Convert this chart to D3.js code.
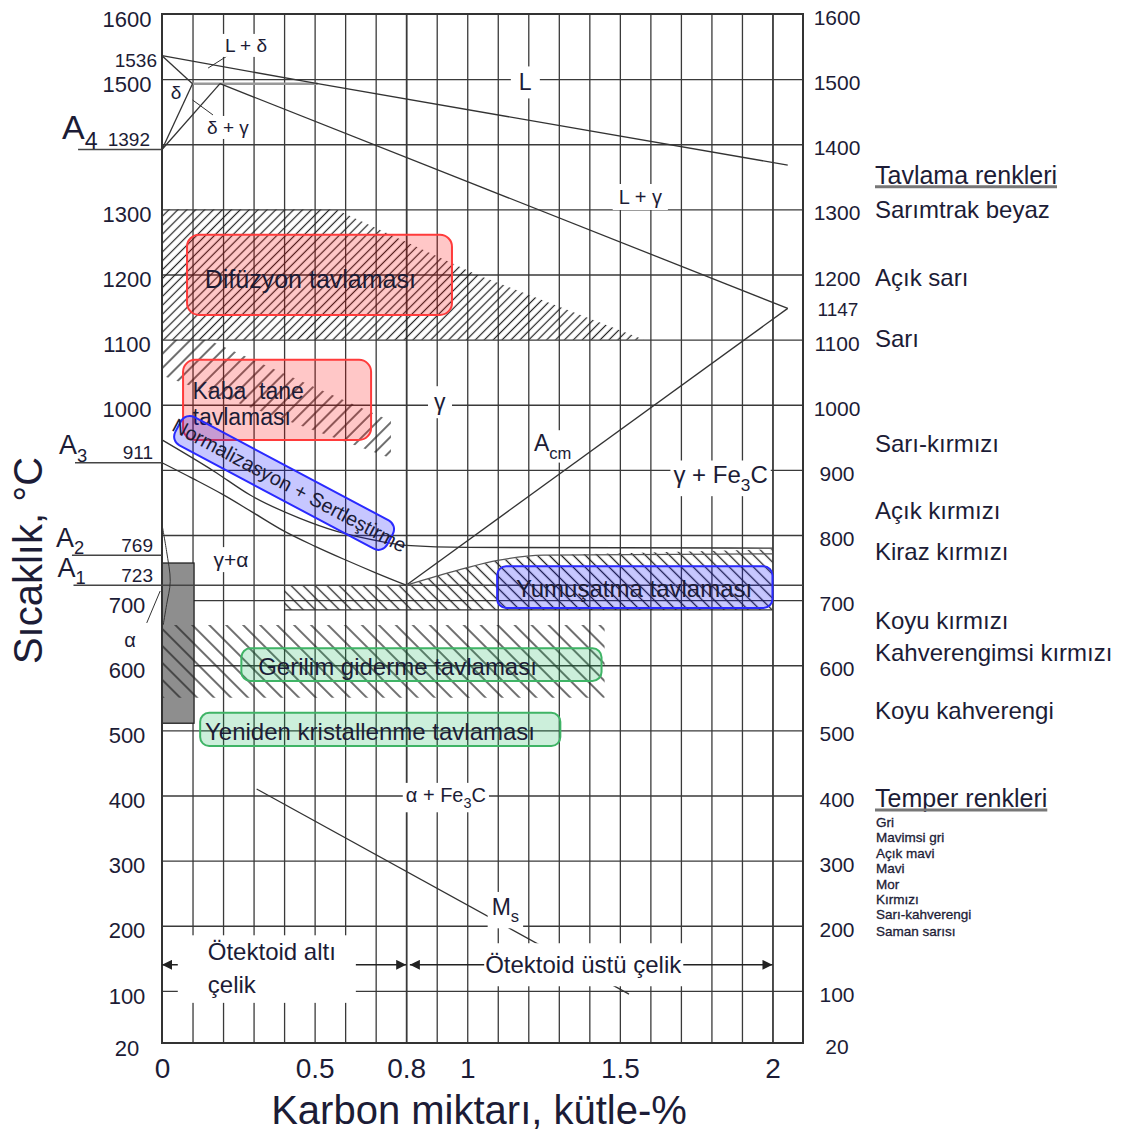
<!DOCTYPE html>
<html>
<head>
<meta charset="utf-8">
<script src="https://cdn.jsdelivr.net/npm/d3@7/dist/d3.min.js"></script>
<style>
  body { margin: 0; background: #fff; }
  text { font-family: Arial, "Liberation Sans", sans-serif; }
</style>
</head>
<body>
<div id="chart"></div>
<script>
// tick labels
const xTickValues = [0, 0.5, 0.8, 1, 1.5, 2]
const leftTicks = [1600, 1500, 1300, 1200, 1100, 1000, 700, 600, 500, 400, 300, 200, 100, 20]
const rightTicks = [1600, 1500, 1400, 1300, 1200, 1100, 1000, 900, 800, 700, 600, 500, 400, 300, 200, 100, 20]
const rightSpecial = [1147]

// critical temperatures on the left (A4, A3, A2, A1)
const critNames = ['4', '3', '2', '1']
const critTemps = [1392, 911, 769, 723]
const critFrom = [-0.275, -0.285, -0.295, -0.29]
const critTo = [0, 0, 0, 2.1]

// phase boundaries, [C %, T °C]
const liquidus = [[0, 1536], [0.51, 1493], [2.05, 1368]]
const deltaSolidus = [[0, 1536], [0.1, 1493]]
const deltaSolvus = [[0.1, 1493], [0, 1392]]
const gammaDelta = [[0, 1392], [0.19, 1493]]
const peritectic = [[0.1, 1493], [0.51, 1493]]
const solidus = [[0.19, 1493], [2.05, 1148]]
const acm = [[0.8, 723], [2.05, 1148]]
const a3 = [[0, 911], [0.1, 887], [0.2, 862], [0.3, 834], [0.4, 806], [0.5, 783], [0.6, 762], [0.7, 742], [0.8, 723]]
const normUpper = [[0, 946], [0.17, 898], [0.29, 861], [0.45, 826], [0.57, 806], [0.72, 790], [0.8, 784], [1.0, 781], [2.0, 780]]
const softUpper = [[0.8, 723], [0.9, 737], [1.0, 750], [1.1, 761], [1.25, 769], [2.0, 771]]
const softLower = [[0.4, 685], [2.0, 685]]
const msLine = [[0.31, 410], [1.53, 95]]
const alphaCurve = [[0, 816], [0.015, 775], [0.027, 729], [0.015, 693], [0.004, 662]]
const alphaLeader = [[-0.006, 714], [-0.05, 665]]
const ldLeader = [[0.151, 1517], [0.239, 1543]]
const dgLeader = [[0.1, 1468], [0.167, 1445]]

// hatched heat-treatment ranges
const diffHatch = [[0, 1300], [0.57, 1300], [1.03, 1200], [1.58, 1100], [0, 1100]]
const coarseHatch = [[0, 1100], [0.15, 1100], [0.75, 975], [0.75, 918], [0, 1045]]
const softHatch = [[0.4, 723], [0.8, 723], [0.9, 737], [1.0, 750], [1.1, 761], [1.25, 769], [2.0, 778], [2.0, 685], [0.4, 685]]
const stressHatch = [[0, 662], [1.45, 662], [1.45, 550], [0, 550]]
const ferriteBlock = [0, 0.105, 511, 757] // c0, c1, t0, t1

// annealing boxes: c0, c1, t0, t1, text start
const boxNames = ['Difüzyon tavlaması', 'Yumuşatma tavlaması', 'Gerilim giderme tavlaması', 'Yeniden kristallenme tavlaması']
const boxC = [[0.082, 0.95], [1.098, 2.0], [0.26, 1.44], [0.125, 1.305]]
const boxT = [[1138, 1261], [688, 752], [576, 626], [476, 527]]
const boxTextC = [0.14, 1.16, 0.315, 0.141]
const boxKind = ['red', 'blue', 'green', 'green']
const coarseBoxC = [0.069, 0.685]
const coarseBoxT = [946, 1069]
const coarseLines = ['Kaba  tane', 'tavlaması']
const coarseLineT = [1023, 983]
const normCenter = [0.40, 880]

// colour names
const annealTitle = 'Tavlama renkleri'
const annealNames = ['Sarımtrak beyaz', 'Açık sarı', 'Sarı', 'Sarı-kırmızı', 'Açık kırmızı', 'Kiraz kırmızı', 'Koyu kırmızı', 'Kahverengimsi kırmızı', 'Koyu kahverengi']
const annealTemps = [1300, 1196, 1102, 940, 838, 774, 669, 619, 531]
const temperTitle = 'Temper renkleri'
const temperNames = ['Gri', 'Mavimsi gri', 'Açık mavi', 'Mavi', 'Mor', 'Kırmızı', 'Sarı-kahverengi', 'Saman sarısı']
const temperTemps = [359, 336, 311, 288, 263, 240, 217, 192]

const W = 1137
const H = 1133
const ink = '#1c1c36'
const x = d3.scaleLinear().domain([0, 2.1]).range([162, 803])
const y = d3.scaleLinear().domain([20, 1600]).range([1043, 14])

const svg = d3.select('#chart').append('svg')
  .attr('width', W).attr('height', H)
  .style('background', '#fff')
const defs = svg.append('defs')

function hatch (id, gap, angle, sw) {
  const p = defs.append('pattern').attr('id', id)
    .attr('patternUnits', 'userSpaceOnUse')
    .attr('width', gap).attr('height', gap)
    .attr('patternTransform', `rotate(${angle})`)
  p.append('line')
    .attr('x1', gap / 2).attr('x2', gap / 2).attr('y1', 0).attr('y2', gap)
    .attr('stroke', '#222').attr('stroke-width', sw)
}
hatch('h-diff', 6.3, 45, 1.2)
hatch('h-coarse', 10, 45, 1.3)
hatch('h-soft', 8.5, -45, 1.3)
hatch('h-stress', 12, -45, 1.3)

defs.append('marker').attr('id', 'arr')
  .attr('viewBox', '0 0 10 10').attr('refX', 10).attr('refY', 5)
  .attr('markerUnits', 'userSpaceOnUse')
  .attr('markerWidth', 12).attr('markerHeight', 10)
  .attr('orient', 'auto-start-reverse')
  .append('path').attr('d', 'M0,0L10,5L0,10Z').attr('fill', '#222')

const line = d3.line().x(d => x(d[0])).y(d => y(d[1]))

// grid
const gridC = d3.range(1, 21).map(i => +(i / 10).toFixed(1))
const gridT = d3.range(100, 1600, 100)
const gx = svg.append('g')
  .attr('transform', `translate(0,${y(20)})`)
  .call(d3.axisBottom(x).tickValues(gridC).tickSize(y(1600) - y(20)).tickFormat(''))
gx.select('.domain').remove()
gx.selectAll('line').attr('stroke', '#3a3a3a')
  .attr('stroke-width', d => (d === 0.8 || d === 2) ? 1.8 : 1.3)
const gy = svg.append('g')
  .attr('transform', `translate(${x(0)},0)`)
  .call(d3.axisLeft(y).tickValues(gridT).tickSize(x(0) - x(2.1)).tickFormat(''))
gy.select('.domain').remove()
gy.selectAll('line').attr('stroke', '#3a3a3a').attr('stroke-width', 1.3)

// hatches
function region (pts, pat) {
  svg.append('path').attr('d', line(pts) + 'Z').attr('fill', `url(#${pat})`)
}
region(diffHatch, 'h-diff')
region(coarseHatch, 'h-coarse')
region(softHatch, 'h-soft')

svg.append('rect')
  .attr('x', x(ferriteBlock[0])).attr('y', y(ferriteBlock[3]))
  .attr('width', x(ferriteBlock[1]) - x(ferriteBlock[0]))
  .attr('height', y(ferriteBlock[2]) - y(ferriteBlock[3]))
  .attr('fill', '#8e8e8e').attr('stroke', '#222').attr('stroke-width', 1.3)
region(stressHatch, 'h-stress')

// border
svg.append('rect')
  .attr('x', x(0)).attr('y', y(1600))
  .attr('width', x(2.1) - x(0)).attr('height', y(20) - y(1600))
  .attr('fill', 'none').attr('stroke', '#333').attr('stroke-width', 2)

// critical lines
critTemps.forEach((t, i) => {
  svg.append('line')
    .attr('x1', x(critFrom[i])).attr('x2', x(critTo[i]))
    .attr('y1', y(t)).attr('y2', y(t))
    .attr('stroke', '#444').attr('stroke-width', 1.5)
})

// phase lines
function pline (pts, opts = {}) {
  svg.append('path').attr('d', line.curve(opts.curve || d3.curveLinear)(pts))
    .attr('fill', 'none').attr('stroke', opts.color || '#333')
    .attr('stroke-width', opts.width || 1.3)
  line.curve(d3.curveLinear)
}
pline(peritectic, { color: '#999', width: 2.5 })
pline(liquidus)
pline(deltaSolidus)
pline(deltaSolvus)
pline(gammaDelta)
pline(solidus)
pline(acm)
pline(a3, { curve: d3.curveMonotoneX })
pline(normUpper, { curve: d3.curveMonotoneX })
pline(softUpper, { curve: d3.curveMonotoneX, color: '#555' })
pline(softLower)
pline(msLine)
pline(alphaCurve, { curve: d3.curveCatmullRom, width: 1 })
pline(alphaLeader, { width: 1 })
pline(ldLeader, { width: 1 })
pline(dgLeader, { width: 1 })

// steel class arrows
const arrowT = 140
svg.append('line')
  .attr('x1', x(0)).attr('x2', x(0.8)).attr('y1', y(arrowT)).attr('y2', y(arrowT))
  .attr('stroke', '#222').attr('stroke-width', 1.5)
  .attr('marker-start', 'url(#arr)').attr('marker-end', 'url(#arr)')
svg.append('line')
  .attr('x1', x(0.812)).attr('x2', x(2.0)).attr('y1', y(arrowT)).attr('y2', y(arrowT))
  .attr('stroke', '#222').attr('stroke-width', 1.5)
  .attr('marker-start', 'url(#arr)').attr('marker-end', 'url(#arr)')

// annealing boxes
const boxFill = { red: 'rgba(255,0,0,0.22)', blue: 'rgba(0,0,255,0.22)', green: 'rgba(0,175,75,0.2)' }
const boxStroke = { red: '#ff3b3b', blue: '#2a2aff', green: '#3fb466' }

function textLine (g, px, py, str, size, anchor) {
  return g.append('text').attr('x', px).attr('y', py).attr('dy', '0.38em')
    .attr('font-size', size).attr('fill', ink)
    .attr('text-anchor', anchor || 'start')
    .style('white-space', 'pre')
    .text(str)
}

boxNames.forEach((name, i) => {
  const k = boxKind[i]
  svg.append('rect')
    .attr('x', x(boxC[i][0])).attr('y', y(boxT[i][1]))
    .attr('width', x(boxC[i][1]) - x(boxC[i][0]))
    .attr('height', y(boxT[i][0]) - y(boxT[i][1]))
    .attr('rx', k === 'red' ? 12 : 9)
    .attr('fill', boxFill[k]).attr('stroke', boxStroke[k]).attr('stroke-width', 2)
  textLine(svg, x(boxTextC[i]), y((boxT[i][0] + boxT[i][1]) / 2) + (i === 0 ? 4 : 1), name, i === 0 ? 25 : 24)
})

svg.append('rect')
  .attr('x', x(coarseBoxC[0])).attr('y', y(coarseBoxT[1]))
  .attr('width', x(coarseBoxC[1]) - x(coarseBoxC[0]))
  .attr('height', y(coarseBoxT[0]) - y(coarseBoxT[1]))
  .attr('rx', 12)
  .attr('fill', boxFill.red).attr('stroke', boxStroke.red).attr('stroke-width', 2)
coarseLines.forEach((s, i) => textLine(svg, x(0.1), y(coarseLineT[i]), s, 23))

const ng = svg.append('g')
  .attr('transform', `translate(${x(normCenter[0])},${y(normCenter[1])}) rotate(28)`)
ng.append('rect')
  .attr('x', -120).attr('y', -16).attr('width', 240).attr('height', 32).attr('rx', 10)
  .attr('fill', boxFill.blue).attr('stroke', boxStroke.blue).attr('stroke-width', 2)
textLine(ng, 6, -1, 'Normalizasyon + Sertleştirme', 20, 'middle')

// phase labels
function label (c, t, parts, size, opts = {}) {
  const g = svg.append('g')
  const tx = g.append('text').attr('x', x(c)).attr('y', y(t)).attr('dy', '0.35em')
    .attr('font-size', size).attr('fill', ink)
    .attr('text-anchor', opts.anchor || 'middle')
  let shift = 0
  parts.forEach(p => {
    const ts = tx.append('tspan').text(p[0])
    if (p[1] === 'sub') {
      const d = size * 0.32
      ts.attr('font-size', size * 0.72).attr('dy', d - shift)
      shift = d
    } else if (shift) {
      ts.attr('dy', -shift)
      shift = 0
    }
  })
  if (opts.bg) {
    const b = g.node().getBBox()
    const px = opts.padX == null ? 3 : opts.padX
    const py = opts.padY == null ? 1 : opts.padY
    g.insert('rect', 'text')
      .attr('x', b.x - px).attr('y', b.y - py)
      .attr('width', b.width + 2 * px).attr('height', b.height + 2 * py)
      .attr('fill', '#fff')
  }
  return g
}

label(0.275, 1552, [['L + δ']], 19, { bg: true })
label(1.19, 1495, [['L']], 23, { bg: true, padX: 8, padY: 3 })
label(0.046, 1479, [['δ']], 19, { bg: true, padX: 1, padY: 0 })
label(0.216, 1426, [['δ + γ']], 19, { bg: true, padX: 1 })
label(1.567, 1319, [['L + γ']], 20, { bg: true, padX: 6, padY: 2 })
label(0.91, 1004, [['γ']], 23, { bg: true, padX: 6, padY: 3 })
label(1.28, 941, [['A'], ['cm', 'sub']], 23, { bg: true, padX: 1, padY: 0 })
label(1.83, 892, [['γ  + Fe'], ['3', 'sub'], ['C']], 24, { bg: true, padX: 3 })
label(0.226, 762, [['γ+α']], 21, { bg: true, padX: 2 })
label(0.93, 401, [['α + Fe'], ['3', 'sub'], ['C']], 20, { bg: true, padX: 3 })
label(1.125, 229, [['M'], ['s', 'sub']], 23, { bg: true, padX: 4, padY: 2 })

// steel class texts
const eg = svg.append('g')
textLine(eg, x(0.15), y(161), 'Ötektoid altı', 24)
textLine(eg, x(0.15), y(111), 'çelik', 24)
const eb = eg.node().getBBox()
eg.insert('rect', 'text')
  .attr('x', eb.x - 30).attr('y', eb.y - 3)
  .attr('width', eb.width + 50).attr('height', eb.height + 8)
  .attr('fill', '#fff')
label(1.38, 140, [['Ötektoid üstü çelik']], 24, { bg: true, padX: 1, padY: 8 })

// axes labels
const la = svg.append('g').attr('transform', `translate(${x(0)},0)`)
  .call(d3.axisLeft(y).tickValues(leftTicks).tickSize(0).tickFormat(d3.format('d')))
la.select('.domain').remove()
la.selectAll('text').attr('x', -35).attr('dy', '0.55em')
  .attr('text-anchor', 'middle').attr('font-size', 22).attr('fill', ink)

const ra = svg.append('g').attr('transform', `translate(${x(2.1)},0)`)
  .call(d3.axisRight(y).tickValues(rightTicks).tickSize(0).tickFormat(d3.format('d')))
ra.select('.domain').remove()
ra.selectAll('text').attr('x', 34).attr('dy', '0.5em')
  .attr('text-anchor', 'middle').attr('font-size', 21).attr('fill', ink)

rightSpecial.forEach(t => {
  svg.append('text').attr('x', x(2.1) + 35).attr('y', y(t)).attr('dy', '0.35em')
    .attr('text-anchor', 'middle').attr('font-size', 19).attr('fill', ink).text(t)
})

// special temperatures on the left
svg.append('text').attr('x', x(0) - 5).attr('y', y(1536) + 5).attr('dy', '0.35em')
  .attr('text-anchor', 'end').attr('font-size', 19).attr('fill', ink).text(1536)
critTemps.forEach((t, i) => {
  svg.append('text').attr('x', x(0) - (i === 0 ? 12 : 9)).attr('y', y(t) - 10).attr('dy', '0.35em')
    .attr('text-anchor', 'end').attr('font-size', 19).attr('fill', ink).text(t)
  const big = i === 0 ? 34 : 27
  const at = svg.append('text').attr('x', x(critFrom[i]) - 16).attr('y', y(t) - (i === 0 ? 22 : 18))
    .attr('dy', '0.35em').attr('font-size', big).attr('fill', ink)
  at.append('tspan').text('A')
  at.append('tspan').attr('font-size', big * 0.68).attr('dy', big * 0.28).text(critNames[i])
})
svg.append('text').attr('x', x(-0.105)).attr('y', y(639)).attr('dy', '0.35em')
  .attr('text-anchor', 'middle').attr('font-size', 20).attr('fill', ink).text('α')

const ba = svg.append('g').attr('transform', `translate(0,${y(20)})`)
  .call(d3.axisBottom(x).tickValues(xTickValues).tickSize(0).tickFormat(d => d))
ba.select('.domain').remove()
ba.selectAll('text').attr('y', 25).attr('dy', '0.35em')
  .attr('font-size', 28).attr('fill', ink)

svg.append('text')
  .attr('transform', `translate(28,${(y(20) + y(1600)) / 2 + 32}) rotate(-90)`)
  .attr('dy', '0.35em').attr('text-anchor', 'middle')
  .attr('font-size', 40).attr('fill', ink).text('Sıcaklık, °C')
svg.append('text')
  .attr('x', 479).attr('y', 1110).attr('dy', '0.35em').attr('text-anchor', 'middle')
  .attr('font-size', 40).attr('fill', ink).text('Karbon miktarı, kütle-%')

// colour legends
const legX = x(2.1) + 72
function legendTitle (str, t) {
  const tt = svg.append('text').attr('x', legX).attr('y', y(t)).attr('dy', '0.35em')
    .attr('font-size', 25).attr('fill', ink).text(str)
  const w = tt.node().getComputedTextLength()
  svg.append('line').attr('x1', legX).attr('x2', legX + w)
    .attr('y1', y(t) + 12).attr('y2', y(t) + 12)
    .attr('stroke', '#777').attr('stroke-width', 3)
}
legendTitle(annealTitle, 1353)
annealNames.forEach((n, i) => {
  svg.append('text').attr('x', legX).attr('y', y(annealTemps[i])).attr('dy', '0.35em')
    .attr('font-size', 24).attr('fill', ink).text(n)
})
legendTitle(temperTitle, 396)
temperNames.forEach((n, i) => {
  svg.append('text').attr('x', legX + 1).attr('y', y(temperTemps[i])).attr('dy', '0.35em')
    .attr('font-size', 13.5).attr('fill', ink)
    .attr('stroke', ink).attr('stroke-width', 0.3)
    .text(n)
})
</script>
</body>
</html>
